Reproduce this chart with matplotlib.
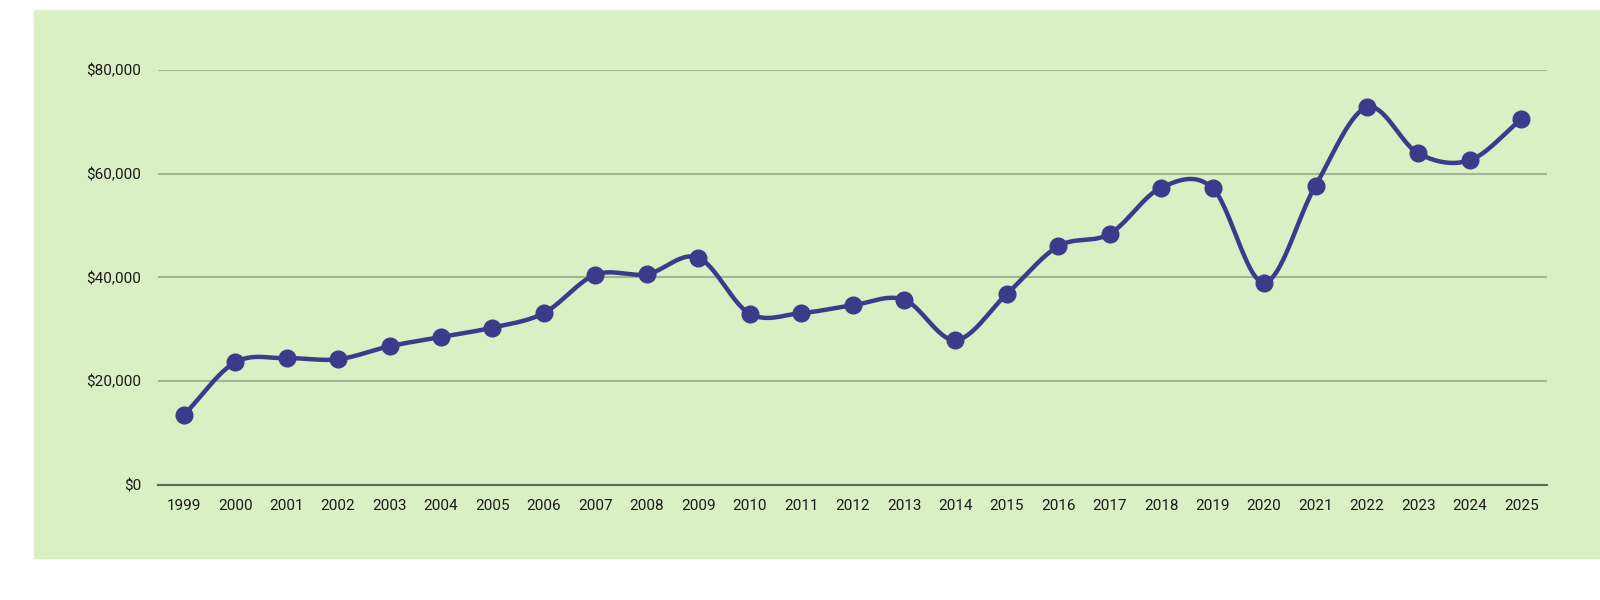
import numpy as np
import matplotlib
matplotlib.use('Agg')
import matplotlib.pyplot as plt
from matplotlib.patches import Rectangle
from matplotlib.ticker import FuncFormatter

YEARS = [str(y) for y in range(1999, 2026)]
VALUES = [13400, 23600, 24400, 24200, 26700, 28500, 30300, 33100, 40500, 40600,
          43800, 33000, 33100, 34600, 35700, 27900, 36800, 46000, 48400, 57300,
          57200, 39000, 57700, 72800, 63900, 62600, 70500]

BG = '#d9efc4'
LINE = '#3b3b8c'


def smooth(x, y, n=30):
    # catmull-rom through the points, like the spreadsheet "smoothed line"
    px = np.concatenate([[2 * x[0] - x[1]], x, [2 * x[-1] - x[-2]]])
    py = np.concatenate([[2 * y[0] - y[1]], y, [2 * y[-1] - y[-2]]])
    xs, ys = [], []
    t = np.linspace(0, 1, n)
    for i in range(1, len(px) - 2):
        p0, p1, p2, p3 = (np.array([px[j], py[j]]) for j in range(i - 1, i + 3))
        c1 = p1 + (p2 - p0) / 6
        c2 = p2 - (p3 - p1) / 6
        pts = ((1 - t) ** 3)[:, None] * p1 + (3 * (1 - t) ** 2 * t)[:, None] * c1 \
            + (3 * (1 - t) * t ** 2)[:, None] * c2 + (t ** 3)[:, None] * p2
        xs.append(pts[:, 0])
        ys.append(pts[:, 1])
    return np.concatenate(xs), np.concatenate(ys)


plt.rcParams['font.family'] = ['Roboto', 'DejaVu Sans']

fig = plt.figure(figsize=(16, 6), dpi=100)
fig.add_artist(Rectangle((33.5 / 1600, 42 / 600), 1 - 33.5 / 1600, 548 / 600,
                         transform=fig.transFigure, color=BG, zorder=-10))

ax = fig.add_axes([158 / 1600, 115.3 / 600, (1547 - 158) / 1600, (484.7 - 70) / 600])
ax.set_facecolor('none')

x = np.arange(len(YEARS))
y = np.array(VALUES, dtype=float)
sx, sy = smooth(x, y)
ax.plot(sx, sy, color=LINE, lw=3.2, solid_capstyle='round', zorder=3, clip_on=False)
ax.plot(x, y, 'o', color=LINE, ms=12, zorder=4, clip_on=False)

ax.set_xlim(-0.5, len(YEARS) - 0.5)
ax.set_ylim(0, 80000)
ax.set_yticks([0, 20000, 40000, 60000, 80000])
ax.yaxis.set_major_formatter(FuncFormatter(lambda v, p: '${:,.0f}'.format(v)))
ax.set_xticks(x)
ax.set_xticklabels(YEARS)

ax.grid(axis='y', color='#a3b594', lw=1.5, zorder=1)
ax.set_axisbelow(True)
for s in ['top', 'right', 'left']:
    ax.spines[s].set_visible(False)
ax.spines['bottom'].set_color('#5a6b55')
ax.spines['bottom'].set_linewidth(1.5)
ax.tick_params(length=0, labelsize=11, colors='#1a1a1a')
ax.tick_params(axis='x', pad=10)
ax.tick_params(axis='y', pad=12)

fig.savefig('out.png', dpi=100)
